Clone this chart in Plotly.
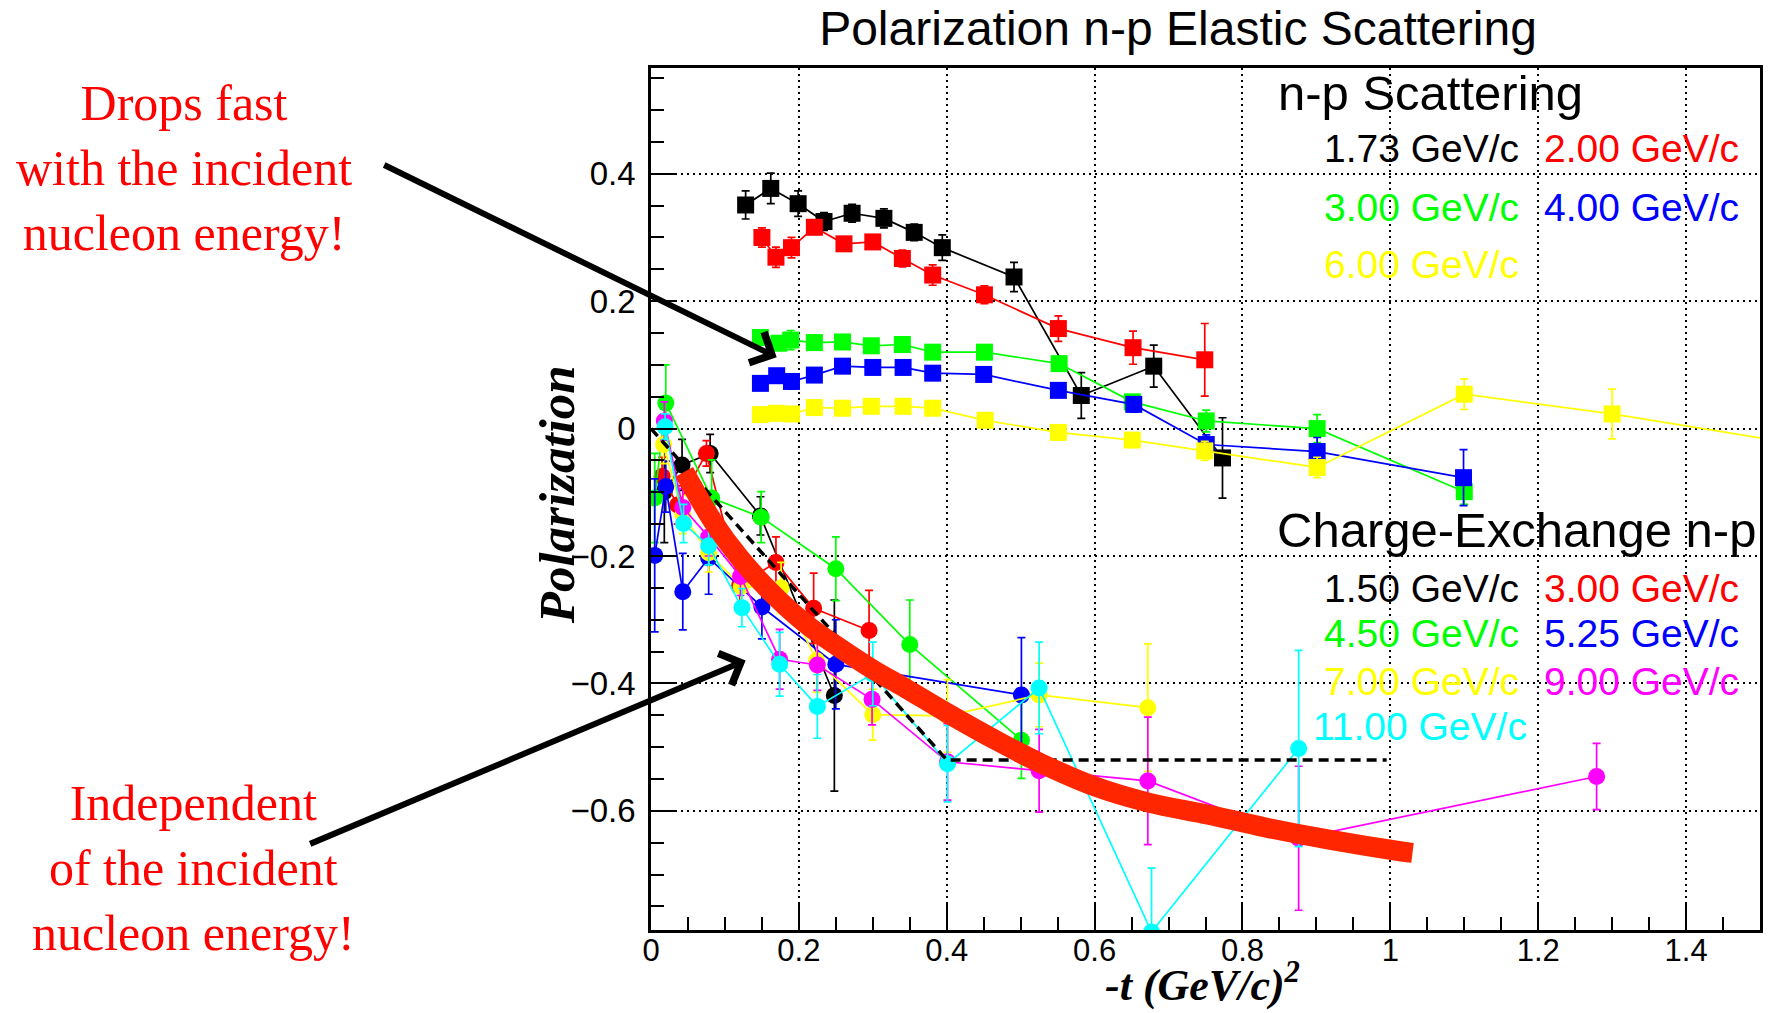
import plotly.graph_objects as go

# ---------------- n-p elastic scattering (squares) ----------------
np173_x = [0.128, 0.162, 0.199, 0.234, 0.272, 0.315, 0.356, 0.394, 0.491, 0.582, 0.680, 0.773]
np173_y = [0.351, 0.377, 0.353, 0.325, 0.338, 0.330, 0.308, 0.284, 0.238, 0.052, 0.098, -0.046]
np173_e = [0.022, 0.024, 0.020, 0.014, 0.014, 0.015, 0.013, 0.020, 0.023, 0.036, 0.033, 0.063]

np200_x = [0.150, 0.169, 0.190, 0.221, 0.261, 0.300, 0.340, 0.381, 0.451, 0.551, 0.652, 0.749]
np200_y = [0.300, 0.269, 0.284, 0.316, 0.290, 0.293, 0.267, 0.241, 0.210, 0.157, 0.127, 0.108]
np200_e = [0.015, 0.016, 0.016, 0.010, 0.010, 0.010, 0.013, 0.016, 0.014, 0.020, 0.026, 0.057]

np300_x = [0.148, 0.173, 0.189, 0.221, 0.259, 0.298, 0.340, 0.381, 0.451, 0.552, 0.651, 0.751, 0.901, 1.100]
np300_y = [0.143, 0.134, 0.139, 0.135, 0.136, 0.130, 0.132, 0.120, 0.120, 0.102, 0.042, 0.012, 0.000, -0.099]
np300_e = [0.010, 0.010, 0.015, 0.010, 0.010, 0.010, 0.010, 0.010, 0.010, 0.010, 0.010, 0.017, 0.022, 0.020]

np400_x = [0.148, 0.170, 0.190, 0.221, 0.259, 0.300, 0.341, 0.381, 0.450, 0.551, 0.653, 0.751, 0.901, 1.099]
np400_y = [0.071, 0.083, 0.074, 0.084, 0.098, 0.096, 0.096, 0.087, 0.085, 0.060, 0.038, -0.025, -0.036, -0.077]
np400_e = [0.010, 0.010, 0.012, 0.010, 0.010, 0.010, 0.010, 0.010, 0.010, 0.010, 0.012, 0.015, 0.022, 0.044]

np600_x = [0.148, 0.170, 0.190, 0.221, 0.259, 0.298, 0.341, 0.381, 0.452, 0.551, 0.651, 0.749, 0.901, 1.100, 1.300, 1.620]
np600_y = [0.022, 0.024, 0.023, 0.033, 0.032, 0.035, 0.035, 0.032, 0.013, -0.006, -0.018, -0.035, -0.061, 0.054, 0.023, -0.037]
np600_e = [0.010, 0.010, 0.010, 0.010, 0.010, 0.010, 0.010, 0.010, 0.010, 0.010, 0.010, 0.015, 0.016, 0.024, 0.039, 0.030]

# ---------------- charge-exchange n-p (circles) ----------------
ce150_x = [0.018, 0.042, 0.080, 0.148, 0.248]
ce150_y = [-0.099, -0.057, -0.039, -0.137, -0.419]
ce150_e = [0.080, 0.040, 0.030, 0.030, 0.150]

ce300_x = [0.015, 0.036, 0.075, 0.120, 0.169, 0.220, 0.295]
ce300_y = [-0.075, -0.120, -0.039, -0.246, -0.210, -0.282, -0.317]
ce300_e = [0.030, 0.030, 0.020, 0.030, 0.040, 0.055, 0.063]

ce450_x = [0.005, 0.020, 0.082, 0.149, 0.250, 0.350, 0.501]
ce450_y = [-0.109, 0.040, -0.109, -0.139, -0.220, -0.339, -0.489]
ce450_e = [0.070, 0.060, 0.060, 0.040, 0.050, 0.070, 0.060]

ce525_x = [0.005, 0.020, 0.043, 0.078, 0.150, 0.250, 0.501]
ce525_y = [-0.199, -0.091, -0.256, -0.203, -0.280, -0.370, -0.418]
ce525_e = [0.120, 0.040, 0.060, 0.057, 0.050, 0.070, 0.090]

ce700_x = [0.017, 0.043, 0.078, 0.122, 0.176, 0.224, 0.300, 0.401, 0.525, 0.672]
ce700_y = [-0.025, -0.135, -0.195, -0.248, -0.250, -0.364, -0.449, -0.451, -0.418, -0.438]
ce700_e = [0.030, 0.030, 0.030, 0.030, 0.040, 0.050, 0.040, 0.057, 0.050, 0.100]

ce900_x = [0.018, 0.043, 0.078, 0.121, 0.174, 0.225, 0.299, 0.401, 0.525, 0.672, 0.876, 1.279]
ce900_y = [0.012, -0.124, -0.170, -0.232, -0.362, -0.371, -0.425, -0.523, -0.537, -0.553, -0.643, -0.546]
ce900_e = [0.030, 0.030, 0.030, 0.030, 0.047, 0.040, 0.040, 0.060, 0.065, 0.100, 0.113, 0.052]

ce1100_x = [0.019, 0.044, 0.078, 0.123, 0.174, 0.225, 0.300, 0.401, 0.525, 0.677, 0.876]
ce1100_y = [0.003, -0.149, -0.184, -0.281, -0.370, -0.436, -0.385, -0.526, -0.407, -0.790, -0.502]
ce1100_e = [0.020, 0.030, 0.030, 0.030, 0.050, 0.050, 0.050, 0.060, 0.072, 0.100, 0.154]

# dashed reference line and hand-drawn red trend curve
dash_x = [0.0, 0.4, 0.995]
dash_y = [0.0, -0.52, -0.52]
curve_x = [0.045, 0.084, 0.120, 0.165, 0.210, 0.255, 0.300, 0.345, 0.400, 0.471, 0.525, 0.601, 0.673, 0.754, 0.831, 0.921, 1.011, 1.030]
curve_y = [-0.068, -0.146, -0.203, -0.260, -0.307, -0.344, -0.378, -0.408, -0.446, -0.492, -0.524, -0.562, -0.587, -0.606, -0.626, -0.646, -0.663, -0.666]

np_labels = ["1.73 GeV/c", "2.00 GeV/c", "3.00 GeV/c", "4.00 GeV/c", "6.00 GeV/c"]
ce_labels = ["1.50 GeV/c", "3.00 GeV/c", "4.50 GeV/c", "5.25 GeV/c", "7.00 GeV/c", "9.00 GeV/c", "11.00 GeV/c"]
colors7 = ["#000000", "#FF0000", "#00FF00", "#0000FF", "#FFFF00", "#FF00FF", "#00FFFF"]

SANS = "Liberation Sans, Arial, Helvetica, sans-serif"
SERIF = "Liberation Serif, Times New Roman, serif"

fig = go.Figure()


def add_series(x, y, e, color, symbol, name, size):
    fig.add_trace(go.Scatter(
        x=x, y=y, mode="lines+markers", name=name,
        line=dict(color=color, width=1.7),
        marker=dict(symbol=symbol, size=size, color=color),
        error_y=dict(type="data", array=e, color=color, thickness=1.7, width=4),
        showlegend=False, cliponaxis=True))


np_sets = [(np173_x, np173_y, np173_e), (np200_x, np200_y, np200_e), (np300_x, np300_y, np300_e),
           (np400_x, np400_y, np400_e), (np600_x, np600_y, np600_e)]
for (x, y, e), c, lab in zip(np_sets, colors7, np_labels):
    add_series(x, y, e, c, "square", "n-p " + lab, 17)

ce_sets = [(ce150_x, ce150_y, ce150_e), (ce300_x, ce300_y, ce300_e), (ce450_x, ce450_y, ce450_e),
           (ce525_x, ce525_y, ce525_e), (ce700_x, ce700_y, ce700_e), (ce900_x, ce900_y, ce900_e),
           (ce1100_x, ce1100_y, ce1100_e)]
for (x, y, e), c, lab in zip(ce_sets, colors7, ce_labels):
    add_series(x, y, e, c, "circle", "CE " + lab, 17)

fig.add_trace(go.Scatter(x=dash_x, y=dash_y, mode="lines", showlegend=False,
                         line=dict(color="black", width=3.5, dash="10px,6px")))
fig.add_trace(go.Scatter(x=curve_x, y=curve_y, mode="lines", showlegend=False,
                         line=dict(color="#FF2600", width=20, shape="spline", smoothing=1.0)))

W, H = 1773, 1013
L, R, T, B = 651, 1763, 68, 930


def px(X):
    return (X - L) / (R - L)


def py(Y):
    return (B - Y) / (B - T)


ann = []
# legend-like texts
ann.append(dict(text="n-p Scattering", x=px(1433), y=py(93), font=dict(size=49, color="black")))
np_pos = [(1424, 149), (1644, 149), (1424, 207), (1644, 207), (1424, 264)]
for lab, c, (X, Y) in zip(np_labels, colors7, np_pos):
    ann.append(dict(text=lab, x=px(X), y=py(Y), font=dict(size=39, color=c)))
ann.append(dict(text="Charge-Exchange n-p", x=px(1519), y=py(530), font=dict(size=49, color="black")))
ce_pos = [(1424, 588), (1644, 588), (1424, 633), (1644, 633), (1424, 681), (1644, 681), (1422, 726)]
for lab, c, (X, Y) in zip(ce_labels, colors7, ce_pos):
    ann.append(dict(text=lab, x=px(X), y=py(Y), font=dict(size=39, color=c)))
for a in ann:
    a.update(xref="paper", yref="paper", showarrow=False, xanchor="center", yanchor="middle")
    a["font"]["family"] = SANS

# side comments
ann.append(dict(text="Drops fast<br>with the incident<br>nucleon energy!", x=px(183), y=py(168),
                xref="paper", yref="paper", showarrow=False, xanchor="center", yanchor="middle",
                align="center", font=dict(family=SERIF, size=50, color="#FF0000")))
ann.append(dict(text="Independent<br>of the incident<br>nucleon energy!", x=px(192), y=py(868),
                xref="paper", yref="paper", showarrow=False, xanchor="center", yanchor="middle",
                align="center", font=dict(family=SERIF, size=50, color="#FF0000")))
# arrows
ann.append(dict(text="", x=0.170, y=0.112, xref="x", yref="y", showarrow=True, ax=-394, ay=-193,
                arrowhead=4, arrowsize=1.1, arrowwidth=6, arrowcolor="black"))
ann.append(dict(text="", x=0.128, y=-0.364, xref="x", yref="y", showarrow=True, ax=-437, ay=184,
                arrowhead=4, arrowsize=1.1, arrowwidth=6, arrowcolor="black"))
# axis titles
ann.append(dict(text="<b><i>Polarization</i></b>", x=px(557), y=py(495), xref="paper", yref="paper",
                showarrow=False, textangle=-90, xanchor="center", yanchor="middle",
                font=dict(family=SERIF, size=51, color="black")))
ann.append(dict(text="<b><i>-t (GeV/c)<sup>2</sup></i></b>", x=px(1204), y=py(1012), xref="paper", yref="paper",
                showarrow=False, xanchor="center", yanchor="bottom",
                font=dict(family=SERIF, size=44, color="black")))

axis_common = dict(
    dtick=0.2, tick0=0, ticks="inside", ticklen=26, tickwidth=2, tickcolor="black",
    showline=True, linecolor="black", linewidth=2.5, mirror=True,
    showgrid=True, gridcolor="black", gridwidth=1.6, griddash="2px,4px", zeroline=False,
    minor=dict(dtick=0.05, tick0=0, ticks="inside", ticklen=13, tickwidth=1.5, tickcolor="black", showgrid=False),
)

fig.update_layout(
    width=W, height=H,
    margin=dict(l=L, r=W - R, t=T, b=H - B, pad=0),
    paper_bgcolor="white", plot_bgcolor="white",
    title=dict(text="Polarization n-p Elastic Scattering", x=1178 / W, xref="container", xanchor="center",
               y=1 - 28 / H, yref="container", yanchor="middle",
               font=dict(family=SANS, size=48, color="black")),
    xaxis=dict(range=[0, 1.5], tickfont=dict(family=SANS, size=31, color="black"),
               ticklabelstandoff=-9, **axis_common),
    yaxis=dict(range=[-0.787, 0.566], tickfont=dict(family=SANS, size=33, color="black"),
               ticklabelstandoff=6, **axis_common),
    annotations=ann,
    showlegend=False,
)

fig.write_html("out.html")
